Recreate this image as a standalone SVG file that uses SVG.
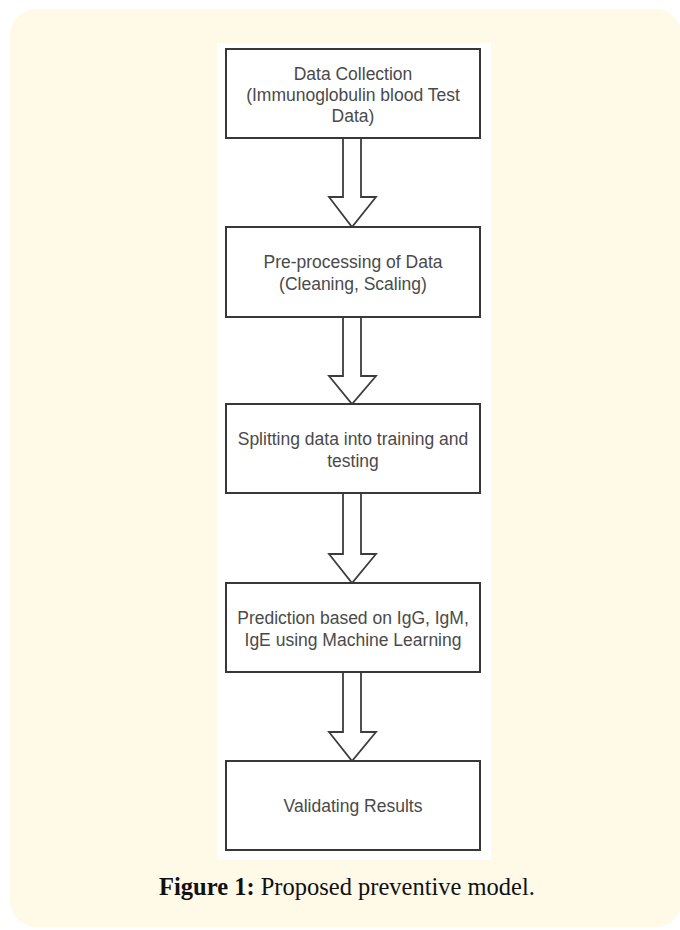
<svg xmlns="http://www.w3.org/2000/svg" width="680" height="930" viewBox="0 0 680 930">
<style>
.box{fill:#ffffff;stroke:#383838;stroke-width:2}
.lbl{font-family:"Liberation Sans",Arial,sans-serif;font-size:17.5px;fill:#4a4a4a;text-anchor:middle}
.arr{fill:#ffffff;stroke:#3c3c3c;stroke-width:1.8;stroke-linejoin:miter}
.cap{font-family:"Liberation Serif","Times New Roman",serif;font-size:24.5px;fill:#111111;text-anchor:middle}
</style>
<rect x="10" y="9" width="672" height="918" rx="26" ry="26" fill="#fffae8"/>
<rect x="217" y="43" width="274" height="817" fill="#ffffff"/>
<g id="connectors">
<polygon class="arr" points="343,138 361,138 361,197 376,197 352,227 329,197 343,197"/>
<polygon class="arr" points="343,317 361,317 361,376 376,376 352,404 329,376 343,376"/>
<polygon class="arr" points="343,493 361,493 361,554 376,554 352,583 329,554 343,554"/>
<polygon class="arr" points="343,672 361,672 361,732 376,732 352,761 329,732 343,732"/>
</g>
<g id="n1">
<rect class="box" x="226" y="49" width="254" height="89"/>
<text class="lbl" x="353" y="80">Data Collection</text>
<text class="lbl" x="353" y="101">(Immunoglobulin blood Test</text>
<text class="lbl" x="353" y="122">Data)</text>
</g>
<g id="n2">
<rect class="box" x="226" y="227" width="254" height="90"/>
<text class="lbl" x="353" y="268">Pre-processing of Data</text>
<text class="lbl" x="353" y="290">(Cleaning, Scaling)</text>
</g>
<g id="n3">
<rect class="box" x="226" y="404" width="254" height="89"/>
<text class="lbl" x="353" y="445">Splitting data into training and</text>
<text class="lbl" x="353" y="467">testing</text>
</g>
<g id="n4">
<rect class="box" x="226" y="583" width="254" height="89"/>
<text class="lbl" x="353" y="624">Prediction based on IgG, IgM,</text>
<text class="lbl" x="353" y="646">IgE using Machine Learning</text>
</g>
<g id="n5">
<rect class="box" x="226" y="761" width="254" height="89"/>
<text class="lbl" x="353" y="812">Validating Results</text>
</g>
<text class="cap" x="347" y="895"><tspan font-weight="bold">Figure 1:</tspan> Proposed preventive model.</text>
</svg>
